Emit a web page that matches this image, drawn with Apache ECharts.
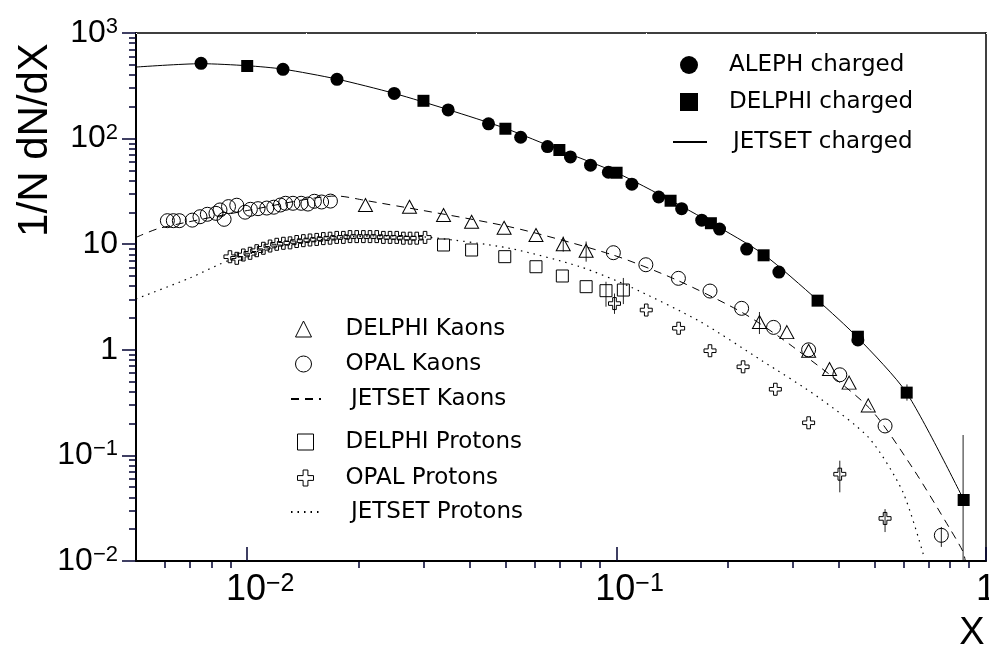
<!DOCTYPE html>
<html><head><meta charset="utf-8">
<script src="https://cdn.jsdelivr.net/npm/echarts@6/dist/echarts.min.js"></script>
<style>html,body{margin:0;padding:0;background:#fff}#c{width:989px;height:652px}</style>
</head><body><div id="c"></div>
<script>
// ---------------- data ----------------
const alephX = [0.0075, 0.0125, 0.0175, 0.025, 0.035, 0.045, 0.055, 0.065, 0.075, 0.085, 0.095, 0.11, 0.13, 0.15, 0.17, 0.19, 0.225, 0.275, 0.45];
const alephY = [516, 453, 364, 268, 187, 138, 103, 84, 67, 56, 48, 37, 28, 21.7, 16.9, 13.9, 9.0, 5.45, 1.24];
const delphiChX = [0.01, 0.03, 0.05, 0.07, 0.10, 0.14, 0.18, 0.25, 0.35, 0.45, 0.61, 0.87];
const delphiChY = [487, 228, 124, 78, 47.5, 25.8, 15.8, 7.85, 2.92, 1.33, 0.393, 0.0378];
const jetChX = [0.005, 0.0075, 0.01, 0.0125, 0.0175, 0.025, 0.035, 0.05, 0.07, 0.1, 0.14, 0.18, 0.25, 0.35, 0.45, 0.61, 0.87];
const jetChY = [476, 512, 490, 455, 366, 268, 188, 125, 78, 47.5, 26, 16, 8.0, 2.95, 1.3, 0.39, 0.038];
const delphiKX = [0.0209, 0.0275, 0.034, 0.0405, 0.0496, 0.0605, 0.0717, 0.0827, 0.2436, 0.289, 0.331, 0.377, 0.426, 0.480];
const delphiKY = [23.5, 22.6, 18.9, 16.3, 14.3, 12.2, 10.0, 8.68, 1.83, 1.47, 0.98, 0.658, 0.489, 0.2975];
const opalKX = [0.00608, 0.00631, 0.00655, 0.0071, 0.00745, 0.0078, 0.00823, 0.00844, 0.00866, 0.0089, 0.00937, 0.00987, 0.0102, 0.0107, 0.0113, 0.0118, 0.0123, 0.0127, 0.0133, 0.0140, 0.0146, 0.0152, 0.0159, 0.0168, 0.098, 0.120, 0.147, 0.179, 0.218, 0.266, 0.331, 0.402, 0.533, 0.757];
const opalKY = [16.7, 16.7, 16.7, 16.9, 18.2, 19.2, 19.6, 21.1, 17.2, 22.7, 23.4, 20.1, 21.4, 21.7, 22.0, 22.4, 23.5, 24.4, 24.4, 24.4, 24.0, 25.5, 25.1, 25.6, 8.31, 6.39, 4.75, 3.60, 2.47, 1.63, 1.00, 0.58, 0.19, 0.0175];
const jetKX = [0.005, 0.0058, 0.0102, 0.0175, 0.0206, 0.0514, 0.0978, 0.1455, 0.22, 0.30, 0.4825, 0.633, 0.798, 0.867, 0.88];
const jetKY = [11.6, 14.2, 21.1, 28.6, 26.2, 14.6, 7.9, 4.58, 2.23, 1.07, 0.283, 0.076, 0.0203, 0.0122, 0.0098];
const delphiPX = [0.034, 0.0405, 0.0498, 0.0605, 0.0713, 0.0827, 0.0936, 0.1043];
const delphiPY = [9.83, 8.81, 7.62, 6.12, 5.0, 3.96, 3.63, 3.68];
const opalPX = [0.00898, 0.00937, 0.00976, 0.01018, 0.01061, 0.01106, 0.01153, 0.01202, 0.01253, 0.01306, 0.01361, 0.01419, 0.01479, 0.01542, 0.01607, 0.01676, 0.01747, 0.01821, 0.01898, 0.01979, 0.02063, 0.0215, 0.02242, 0.02337, 0.02436, 0.0254, 0.02647, 0.0276, 0.02877, 0.0303, 0.0987, 0.1203, 0.1472, 0.179, 0.220, 0.269, 0.331, 0.402, 0.533];
const opalPY = [7.61, 7.35, 7.90, 8.20, 8.68, 9.15, 9.61, 9.98, 10.2, 10.3, 10.6, 10.8, 10.96, 11.1, 11.3, 11.4, 11.6, 11.6, 11.8, 11.8, 11.8, 11.8, 11.8, 11.6, 11.6, 11.6, 11.4, 11.4, 11.4, 11.6, 2.74, 2.38, 1.60, 0.98, 0.69, 0.423, 0.2036, 0.0664, 0.0253];
const jetPX = [0.005, 0.0070, 0.00898, 0.0125, 0.018, 0.024, 0.0313, 0.0514, 0.0796, 0.1087, 0.1692, 0.2474, 0.353, 0.4825, 0.595, 0.682];
const jetPY = [3.03, 4.79, 7.09, 9.8, 11.6, 12.0, 11.6, 9.14, 6.12, 3.96, 1.83, 0.789, 0.352, 0.146, 0.0454, 0.0105];
// error bars (x, low, high)
const errX  = [0.611, 0.867, 0.0717, 0.0827, 0.2436, 0.0936, 0.1043, 0.0987, 0.402, 0.533, 0.757];
const errLo = [0.33, 0.005, 8.5, 6.83, 1.41, 2.56, 2.71, 2.19, 0.0447, 0.0188, 0.0136];
const errHi = [0.47, 0.156, 11.8, 10.6, 2.28, 4.41, 4.79, 3.41, 0.0891, 0.031, 0.021];
// ticks
const xMajorTicks = [0.01, 0.1, 1];
const xTickBase = ['10', '10', '1'];
const xTickExp = ['\u22122', '\u22121', ''];
const xMinorTicks = [0.006, 0.007, 0.008, 0.009, 0.02, 0.03, 0.04, 0.05, 0.06, 0.07, 0.08, 0.09, 0.2, 0.3, 0.4, 0.5, 0.6, 0.7, 0.8, 0.9];
const yMajorTicks = [0.01, 0.1, 1, 10, 100, 1000];
const yTickBase = ['10', '10', '1', '10', '10', '10'];
const yTickExp = ['\u22122', '\u22121', '', '', '2', '3'];

// ---------------- chart ----------------
const zip = (a, b) => a.map((v, i) => [v, b[i]]);
const findIdx = (arr, v) => arr.findIndex(t => Math.abs(Math.log10(t) - Math.log10(v)) < 1e-6);
const FONT = 'Liberation Sans, Arial, sans-serif';
const NARROW = 'Liberation Sans Narrow, Liberation Sans, Arial, sans-serif';
const LEG = 'DejaVu Sans, sans-serif';
const TICK = '#000030';
const crossPath = 'path://M3.5,0H6.5V3.5H10V6.5H6.5V10H3.5V6.5H0V3.5H3.5Z';
const open = {color: 'rgba(0,0,0,0)', borderColor: '#000', borderWidth: 1, opacity: 1};
const solid = {color: '#000', opacity: 1};
const frameAxis = (extra) => Object.assign({type: 'log', logBase: 10,
  axisLine: {show: true, onZero: false, lineStyle: {color: '#000', width: 1.5}},
  axisTick: {show: false}, axisLabel: {show: false}, splitLine: {show: false}}, extra);

function legendBox(left, top, w, h, gap, pad, names, isLine) {
  return {orient: 'vertical', left: left, top: top, itemWidth: w, itemHeight: h, itemGap: gap, selectedMode: false,
    symbolKeepAspect: true, padding: 0,
    itemStyle: isLine ? {color: 'rgba(0,0,0,0)', borderColor: 'rgba(0,0,0,0)', borderWidth: 0} : {borderWidth: 1},
    textStyle: {fontFamily: LEG, fontSize: 23, lineHeight: 24, color: '#000', padding: [0, 0, 0, pad]},
    data: names};
}

const chart = echarts.init(document.getElementById('c'), null, {renderer: 'canvas'});
const option = {
  animation: false,
  backgroundColor: '#fff',
  grid: {left: 136, top: 33, width: 850, height: 528, show: false, containLabel: false, outerBoundsMode: 'none'},
  xAxis: [
    {type: 'log', logBase: 10, min: 0.005, max: 1, position: 'bottom', z: 10,
     axisLine: {show: true, onZero: false, lineStyle: {color: '#000', width: 2}},
     axisTick: {show: true, inside: true, length: 14, lineStyle: {color: TICK, width: 1.5}, customValues: xMajorTicks},
     axisLabel: {show: true, customValues: xMajorTicks, margin: 11,
       formatter: v => { const i = findIdx(xMajorTicks, v); if (i < 0) return ''; return xTickExp[i] ? '{bp|' + xTickBase[i] + '}{s|' + xTickExp[i] + '}' : '{b|' + xTickBase[i] + '}'; },
       rich: {
         b: {fontFamily: NARROW, fontSize: 36, lineHeight: 36, color: '#000'},
         bp: {fontFamily: NARROW, fontSize: 36, lineHeight: 36, color: '#000', padding: [0, 0, 0, 26]},
         s: {fontFamily: NARROW, fontSize: 25, lineHeight: 12, verticalAlign: 'top', color: '#000'}
       }},
     splitLine: {show: false}},
    {type: 'log', logBase: 10, min: 0.005, max: 1, position: 'bottom',
     axisLine: {show: false, onZero: false},
     axisTick: {show: true, inside: false, length: 7, lineStyle: {color: TICK, width: 1.5}, customValues: xMinorTicks},
     axisLabel: {show: false}, splitLine: {show: false}},
    frameAxis({min: 0.005, max: 1, position: 'top'}),
    {type: 'value', min: 0, max: 10, position: 'top', show: true,
     axisLine: {show: false, onZero: false},
     axisTick: {show: true, inside: true, length: 1, lineStyle: {color: '#fff', width: 1}},
     axisLabel: {show: false}, splitLine: {show: false}}
  ],
  yAxis: [
    {type: 'log', logBase: 10, min: 0.01, max: 1000, position: 'left',
     axisLine: {show: true, onZero: false, lineStyle: {color: '#000', width: 2}},
     axisTick: {show: true, inside: false, length: 14, lineStyle: {color: TICK, width: 1.5}},
     minorTick: {show: true, splitNumber: 9, length: 7, lineStyle: {color: TICK, width: 1.5}},
     axisLabel: {show: true, customValues: yMajorTicks, margin: 18,
       formatter: v => { const i = findIdx(yMajorTicks, v); if (i < 0) return ''; return '{b|' + yTickBase[i] + '}' + (yTickExp[i] ? '{s|' + yTickExp[i] + '}' : ''); },
       rich: {
         b: {fontFamily: FONT, fontSize: 32, lineHeight: 34, color: '#000'},
         s: {fontFamily: FONT, fontSize: 22, lineHeight: 10, verticalAlign: 'top', color: '#000'}
       }},
     splitLine: {show: false}, minorSplitLine: {show: false}},
    frameAxis({min: 0.01, max: 1000, position: 'right'})
  ],
  legend: [
    legendBox(680, 53, 18, 18, 13, 26, ['ALEPH charged', 'DELPHI charged'], false),
    legendBox(672, 130, 34, 18, 10, 21, ['JETSET charged'], true),
    legendBox(295, 317, 16, 16, 11, 29, ['DELPHI Kaons', 'OPAL Kaons'], false),
    legendBox(290, 387, 30, 16, 10, 25, ['JETSET Kaons'], true),
    legendBox(297, 430, 16, 16, 12, 27, ['DELPHI Protons', 'OPAL Protons'], false),
    legendBox(290, 500, 30, 16, 10, 25, ['JETSET Protons'], true)
  ],
  graphic: [
    {type: 'text', x: 35, y: 140, rotation: Math.PI / 2,
     style: {text: '1/N dN/dX', fontFamily: FONT, fontSize: 42, fill: '#000', textAlign: 'center', textVerticalAlign: 'middle'}},
    {type: 'text', x: 972, y: 634,
     style: {text: 'X', fontFamily: NARROW, fontSize: 38, fill: '#000', textAlign: 'center', textVerticalAlign: 'middle'}}
  ],
  series: [
    {name: 'errors', type: 'custom', clip: true, xAxisIndex: 0, yAxisIndex: 0,
     data: errX.map((x, i) => [x, errLo[i], errHi[i]]),
     encode: {x: 0, y: [1, 2]},
     renderItem: (params, api) => {
       const p1 = api.coord([api.value(0), api.value(1)]);
       const p2 = api.coord([api.value(0), api.value(2)]);
       return {type: 'line', shape: {x1: p1[0], y1: p1[1], x2: p2[0], y2: p2[1]}, style: {stroke: '#222', lineWidth: 1}};
     }},
    {name: 'JETSET charged', type: 'line', data: zip(jetChX, jetChY), symbol: 'none', smooth: 0.25, clip: true,
     lineStyle: {color: '#000', width: 1}, itemStyle: {color: '#000'}},
    {name: 'JETSET Kaons', type: 'line', data: zip(jetKX, jetKY), symbol: 'none', smooth: 0.25, clip: true,
     lineStyle: {color: '#000', width: 1, type: [8, 6]}, itemStyle: {color: '#000'}},
    {name: 'JETSET Protons', type: 'line', data: zip(jetPX, jetPY), symbol: 'none', smooth: 0.25, clip: true,
     lineStyle: {color: '#000', width: 1.2, type: [1.5, 5]}, itemStyle: {color: '#000'}},
    {name: 'ALEPH charged', type: 'scatter', data: zip(alephX, alephY), symbol: 'circle', symbolSize: 13, itemStyle: solid},
    {name: 'DELPHI charged', type: 'scatter', data: zip(delphiChX, delphiChY), symbol: 'rect', symbolSize: 12, itemStyle: solid},
    {name: 'DELPHI Kaons', type: 'scatter', data: zip(delphiKX, delphiKY), symbol: 'triangle', symbolSize: [14, 13], itemStyle: open},
    {name: 'OPAL Kaons', type: 'scatter', data: zip(opalKX, opalKY), symbol: 'circle', symbolSize: 14, itemStyle: open},
    {name: 'DELPHI Protons', type: 'scatter', data: zip(delphiPX, delphiPY), symbol: 'rect', symbolSize: 12, itemStyle: open},
    {name: 'OPAL Protons', type: 'scatter', data: zip(opalPX, opalPY), symbol: crossPath, symbolSize: 12, itemStyle: open}
  ]
};
chart.setOption(option);
</script></body></html>
